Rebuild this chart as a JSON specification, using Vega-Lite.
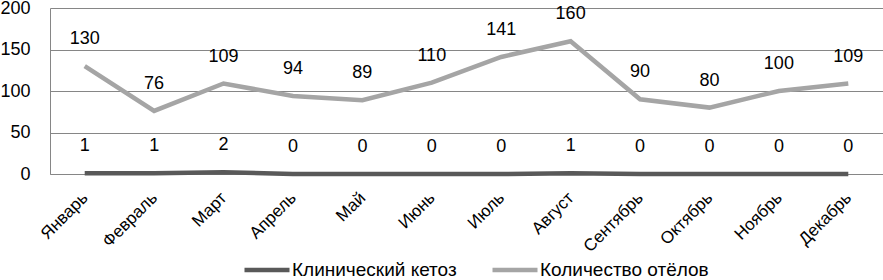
{
  "$schema": "https://vega.github.io/schema/vega-lite/v6.json",
  "width": 833,
  "height": 166,
  "autosize": {"type": "none"},
  "padding": {"left": 50, "top": 8, "right": 0, "bottom": 106},
  "background": "white",
  "config": {
    "font": "Liberation Sans",
    "view": {"stroke": null}
  },
  "data": {
    "values": [
      {"month": "Январь", "series": "Клинический кетоз", "value": 1},
      {"month": "Февраль", "series": "Клинический кетоз", "value": 1},
      {"month": "Март", "series": "Клинический кетоз", "value": 2},
      {"month": "Апрель", "series": "Клинический кетоз", "value": 0},
      {"month": "Май", "series": "Клинический кетоз", "value": 0},
      {"month": "Июнь", "series": "Клинический кетоз", "value": 0},
      {"month": "Июль", "series": "Клинический кетоз", "value": 0},
      {"month": "Август", "series": "Клинический кетоз", "value": 1},
      {"month": "Сентябрь", "series": "Клинический кетоз", "value": 0},
      {"month": "Октябрь", "series": "Клинический кетоз", "value": 0},
      {"month": "Ноябрь", "series": "Клинический кетоз", "value": 0},
      {"month": "Декабрь", "series": "Клинический кетоз", "value": 0},
      {"month": "Январь", "series": "Количество отёлов", "value": 130},
      {"month": "Февраль", "series": "Количество отёлов", "value": 76},
      {"month": "Март", "series": "Количество отёлов", "value": 109},
      {"month": "Апрель", "series": "Количество отёлов", "value": 94},
      {"month": "Май", "series": "Количество отёлов", "value": 89},
      {"month": "Июнь", "series": "Количество отёлов", "value": 110},
      {"month": "Июль", "series": "Количество отёлов", "value": 141},
      {"month": "Август", "series": "Количество отёлов", "value": 160},
      {"month": "Сентябрь", "series": "Количество отёлов", "value": 90},
      {"month": "Октябрь", "series": "Количество отёлов", "value": 80},
      {"month": "Ноябрь", "series": "Количество отёлов", "value": 100},
      {"month": "Декабрь", "series": "Количество отёлов", "value": 109}
    ]
  },
  "encoding": {
    "x": {
      "field": "month",
      "type": "ordinal",
      "sort": null,
      "scale": {"type": "point", "padding": 0.5},
      "axis": {
        "title": null,
        "labelAngle": -45,
        "labelAlign": "right",
        "labelBaseline": "middle",
        "labelFontSize": 17,
        "labelColor": "#000000",
        "labelPadding": 21,
        "ticks": false,
        "domain": true,
        "domainColor": "#868686",
        "grid": false
      }
    },
    "y": {
      "field": "value",
      "type": "quantitative",
      "scale": {"domain": [0, 200], "nice": false},
      "axis": {
        "title": null,
        "values": [0, 50, 100, 150, 200],
        "labelFontSize": 18,
        "labelColor": "#000000",
        "labelPadding": 20,
        "labelFlush": false,
        "ticks": false,
        "domain": true,
        "domainColor": "#868686",
        "grid": true,
        "gridColor": "#868686",
        "gridWidth": 1
      }
    }
  },
  "layer": [
    {
      "mark": {"type": "line", "strokeWidth": 4.5},
      "encoding": {
        "color": {
          "field": "series",
          "type": "nominal",
          "scale": {
            "domain": ["Клинический кетоз", "Количество отёлов"],
            "range": ["#595959", "#a5a5a5"]
          },
          "legend": {
            "title": null,
            "orient": "none",
            "direction": "horizontal",
            "legendX": 192,
            "legendY": 237,
            "symbolType": "stroke",
            "symbolSize": 2025,
            "symbolStrokeWidth": 4.5,
            "labelFontSize": 19,
            "labelLimit": 300,
            "labelColor": "#000000",
            "labelOffset": 0,
            "columnPadding": 26
          }
        }
      }
    },
    {
      "mark": {"type": "text", "dy": -27, "fontSize": 18, "color": "#000000"},
      "encoding": {
        "text": {"field": "value", "type": "quantitative"},
        "detail": {"field": "series", "type": "nominal"}
      }
    }
  ]
}
